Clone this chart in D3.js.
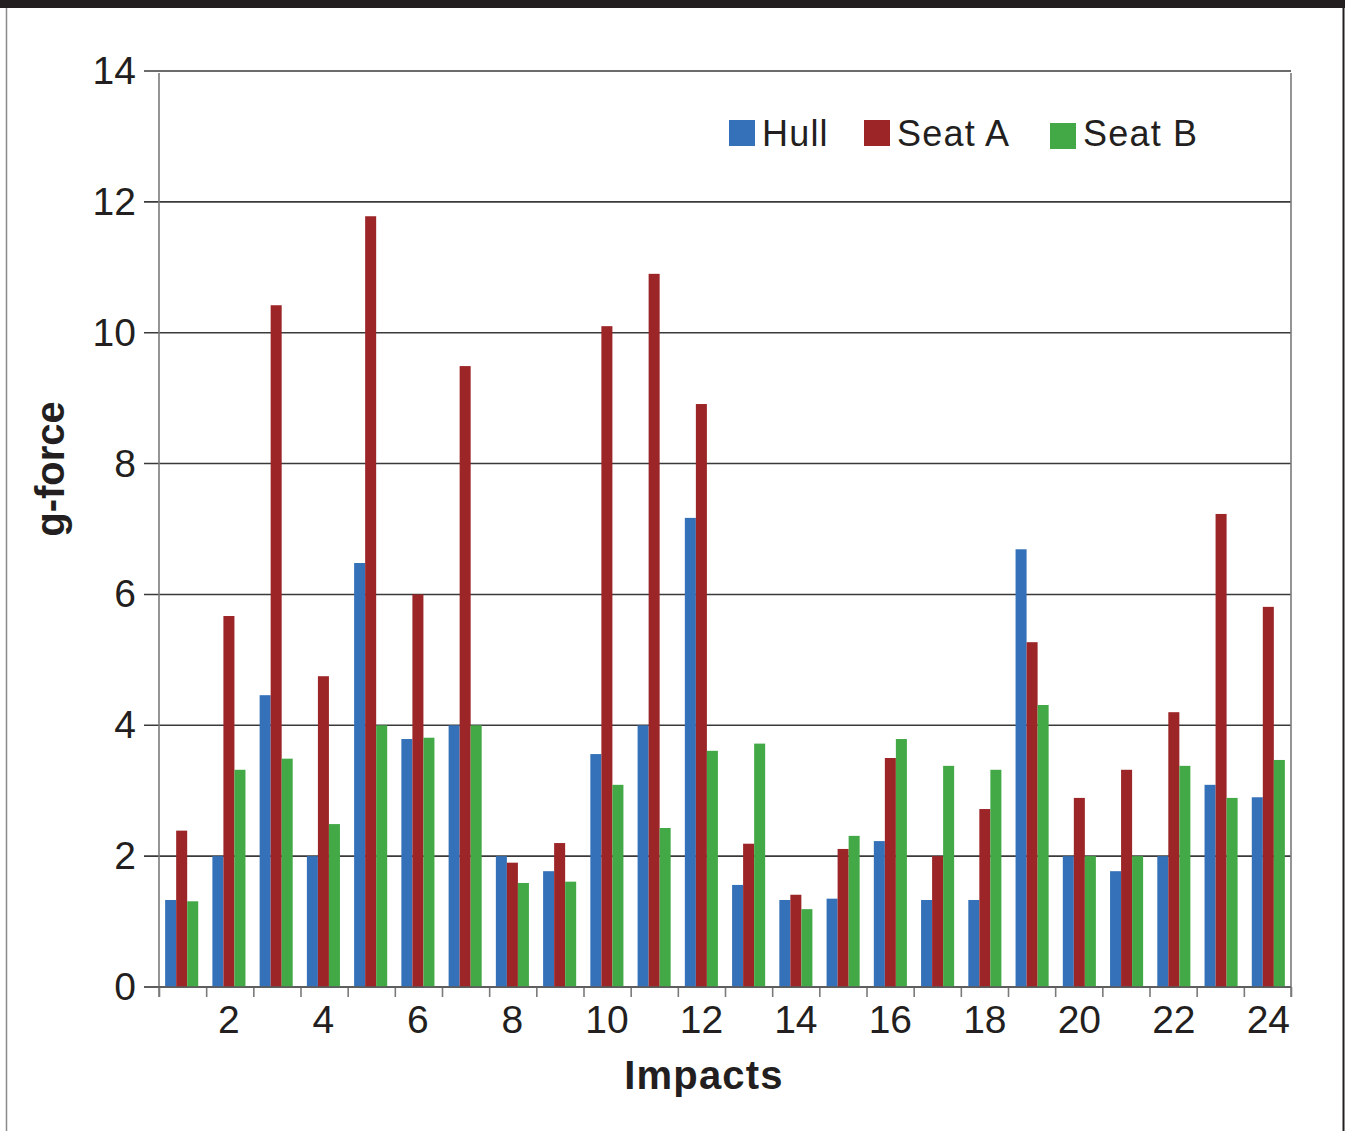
<!DOCTYPE html>
<html>
<head>
<meta charset="utf-8">
<script src="https://cdn.jsdelivr.net/npm/d3@7"></script>
<style>
  html, body { margin: 0; padding: 0; background: #fff; }
  svg { display: block; }
</style>
</head>
<body>
<script>
const categories = d3.range(1, 25);
const tickLabels = [2, 4, 6, 8, 10, 12, 14, 16, 18, 20, 22, 24];
const seriesNames = ["Hull", "Seat A", "Seat B"];
const hull  = [1.33, 2.0, 4.46, 2.0, 6.48, 3.79, 4.0, 2.0, 1.77, 3.56, 4.0, 7.17, 1.56, 1.33, 1.35, 2.23, 1.33, 1.33, 6.69, 2.0, 1.77, 2.0, 3.09, 2.9];
const seatA = [2.39, 5.67, 10.42, 4.75, 11.78, 6.0, 9.49, 1.9, 2.2, 10.1, 10.9, 8.91, 2.19, 1.41, 2.11, 3.5, 2.0, 2.72, 5.27, 2.89, 3.32, 4.2, 7.23, 5.81];
const seatB = [1.31, 3.32, 3.49, 2.49, 4.0, 3.81, 4.0, 1.59, 1.61, 3.09, 2.43, 3.61, 3.72, 1.19, 2.31, 3.79, 3.38, 3.32, 4.31, 2.0, 2.0, 3.38, 2.89, 3.47];
const yTicks = [0, 2, 4, 6, 8, 10, 12, 14];
const colors = ["#3471b9", "#9c2528", "#43a947"];

(function () {
const W = 1350, H = 1131;
const pLeft = 159, pRight = 1291, pTop = 71, pBottom = 987;
const textColor = "#231f20";
const font = "'Liberation Sans', Arial, sans-serif";

const svg = d3.select("body").append("svg").attr("width", W).attr("height", H);

// frame
svg.append("rect").attr("x", 0).attr("y", 0).attr("width", 1345).attr("height", 8).attr("fill", "#231f20");
svg.append("line").attr("x1", 6.5).attr("x2", 6.5).attr("y1", 8).attr("y2", H).attr("stroke", "#8a8a8a").attr("stroke-width", 1.5);
svg.append("line").attr("x1", 1343.5).attr("x2", 1343.5).attr("y1", 0).attr("y2", H).attr("stroke", "#231f20").attr("stroke-width", 2);

const y = d3.scaleLinear().domain([0, 14]).range([pBottom, pTop]);
const x0 = d3.scaleBand().domain(categories).range([pLeft, pRight]).paddingInner(0.3).paddingOuter(0.13);
const x1 = d3.scaleBand().domain(seriesNames).range([0, x0.bandwidth()]).padding(0);
const xb = d3.scaleLinear().domain([0.5, 24.5]).range([pLeft, pRight]);

// gridlines
svg.append("g").selectAll("line").data(yTicks).join("line")
  .attr("x1", pLeft - 15).attr("x2", pRight)
  .attr("y1", d => y(d)).attr("y2", d => y(d))
  .attr("stroke", "#3a3a3a").attr("stroke-width", 1.6);

// vertical axis lines
svg.append("line").attr("x1", pLeft).attr("x2", pLeft).attr("y1", pTop + 2).attr("y2", pBottom + 10)
  .attr("stroke", "#7a7a7a").attr("stroke-width", 1.6);
svg.append("line").attr("x1", pRight).attr("x2", pRight).attr("y1", pTop + 2).attr("y2", pBottom + 10)
  .attr("stroke", "#7a7a7a").attr("stroke-width", 1.6);

// x tick marks at category boundaries
const xTickAxis = svg.append("g").attr("transform", `translate(0,${pBottom})`)
  .call(d3.axisBottom(xb).tickValues(d3.range(0.5, 25, 1)).tickSize(10).tickFormat(""));
xTickAxis.select(".domain").remove();
xTickAxis.selectAll(".tick line").attr("stroke", "#7a7a7a").attr("stroke-width", 1.6);

// bars
const seriesData = [hull, seatA, seatB];
const groups = svg.append("g").selectAll("g").data(categories).join("g")
  .attr("transform", d => `translate(${x0(d)},0)`);
groups.selectAll("rect").data((d, i) => seriesNames.map((s, k) => ({ s, k, v: seriesData[k][i] })))
  .join("rect")
  .attr("x", d => x1(d.s))
  .attr("width", x1.bandwidth())
  .attr("y", d => y(d.v))
  .attr("height", d => y(0) - y(d.v))
  .attr("fill", d => colors[d.k]);

// redraw baseline on top
svg.append("line").attr("x1", pLeft - 15).attr("x2", pRight).attr("y1", y(0)).attr("y2", y(0))
  .attr("stroke", "#5a5a5a").attr("stroke-width", 1.6);

// y axis labels
const yAxis = svg.append("g").attr("transform", `translate(${pLeft},0)`)
  .call(d3.axisLeft(y).tickValues(yTicks).tickSize(0).tickPadding(23));
yAxis.select(".domain").remove();
yAxis.selectAll("text").attr("font-family", font).attr("font-size", 39).attr("fill", textColor);

// x axis labels
const xAxis = svg.append("g").attr("transform", `translate(0,${pBottom})`)
  .call(d3.axisBottom(x0).tickValues(tickLabels).tickSize(0).tickPadding(18));
xAxis.select(".domain").remove();
xAxis.selectAll("text").attr("font-family", font).attr("font-size", 39).attr("fill", textColor);

// axis titles
svg.append("text").attr("x", 704).attr("y", 1089).attr("text-anchor", "middle")
  .attr("font-family", font).attr("font-weight", "bold").attr("font-size", 40)
  .attr("letter-spacing", 1.2).attr("fill", textColor)
  .text("Impacts");
svg.append("text").attr("transform", "translate(64,469) rotate(-90)").attr("text-anchor", "middle")
  .attr("font-family", font).attr("font-weight", "bold").attr("font-size", 40).attr("fill", textColor)
  .text("g-force");

// legend
const legendItems = [
  { name: "Hull", x: 729, y: 120 },
  { name: "Seat A", x: 864, y: 120 },
  { name: "Seat B", x: 1050, y: 123 }
];
const lg = svg.append("g").selectAll("g").data(legendItems).join("g");
lg.append("rect").attr("x", d => d.x).attr("y", d => d.y).attr("width", 26).attr("height", 26)
  .attr("fill", (d, i) => colors[i]);
lg.append("text").attr("x", d => d.x + 33).attr("y", 146)
  .attr("font-family", font).attr("font-size", 36).attr("letter-spacing", 1.2).attr("fill", textColor)
  .text(d => d.name);
})();
</script>
</body>
</html>
